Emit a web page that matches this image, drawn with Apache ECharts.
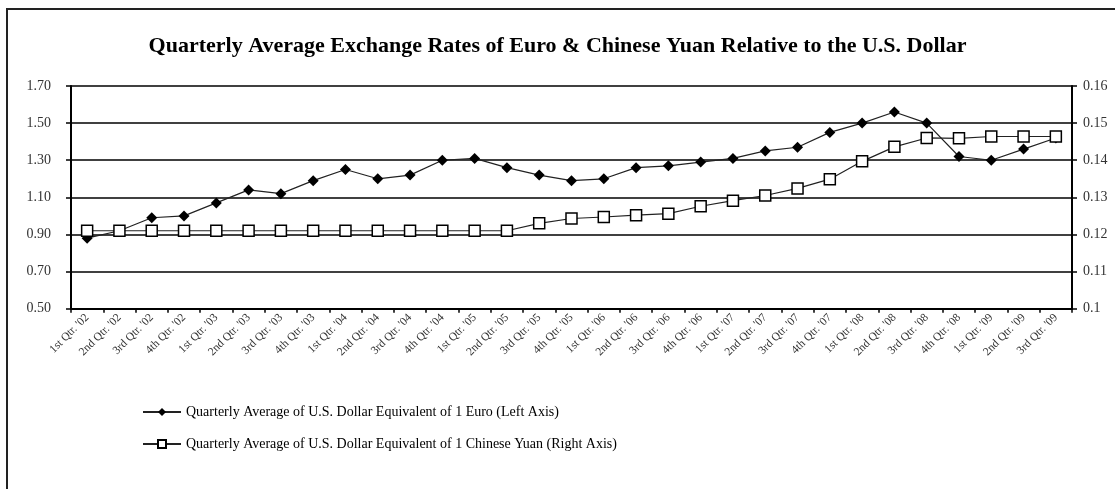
<!DOCTYPE html>
<html><head><meta charset="utf-8">
<script src="https://cdn.jsdelivr.net/npm/echarts@6/dist/echarts.min.js"></script>
<style>html,body{margin:0;padding:0;background:#fff;}#c{width:1115px;height:489px;}</style>
</head><body><div id="c"></div>
<script>
const categories = [
"1st Qtr. '02","2nd Qtr. '02","3rd Qtr. '02","4th Qtr. '02",
"1st Qtr. '03","2nd Qtr. '03","3rd Qtr. '03","4th Qtr. '03",
"1st Qtr. '04","2nd Qtr. '04","3rd Qtr. '04","4th Qtr. '04",
"1st Qtr. '05","2nd Qtr. '05","3rd Qtr. '05","4th Qtr. '05",
"1st Qtr. '06","2nd Qtr. '06","3rd Qtr. '06","4th Qtr. '06",
"1st Qtr. '07","2nd Qtr. '07","3rd Qtr. '07","4th Qtr. '07",
"1st Qtr. '08","2nd Qtr. '08","3rd Qtr. '08","4th Qtr. '08",
"1st Qtr. '09","2nd Qtr. '09","3rd Qtr. '09"];
const euro = [0.88,0.92,0.99,1.00,1.07,1.14,1.12,1.19,1.25,1.20,1.22,1.30,1.31,1.26,1.22,1.19,1.20,1.26,1.27,1.29,1.31,1.35,1.37,1.45,1.50,1.56,1.50,1.32,1.30,1.36,1.42];
const yuan = [0.121,0.121,0.121,0.121,0.121,0.121,0.121,0.121,0.121,0.121,0.121,0.121,0.121,0.121,0.123,0.1243,0.1247,0.1252,0.1256,0.1276,0.1291,0.1305,0.1324,0.1349,0.1397,0.1436,0.146,0.1459,0.1464,0.1464,0.1464];
const euroName = "Quarterly Average of U.S. Dollar Equivalent of 1 Euro (Left Axis)";
const yuanName = "Quarterly Average of U.S. Dollar Equivalent of 1 Chinese Yuan (Right Axis)";
const titleText = "Quarterly Average Exchange Rates of Euro & Chinese Yuan Relative to the U.S. Dollar";

const serif = "'Liberation Serif','DejaVu Serif',serif";
const chart = echarts.init(document.getElementById('c'), null, {renderer:'canvas'});
chart.setOption({
  animation:false,
  backgroundColor:'#fff',
  title:{text:titleText,left:'center',top:30,textStyle:{fontFamily:serif,fontWeight:'bold',fontSize:22,color:'#000'}},
  graphic:[{type:'rect',shape:{x:7,y:9,width:1200,height:600},style:{fill:'none',stroke:'#222',lineWidth:2},silent:true,z:-1}],
  legend:{orient:'vertical',left:137,top:400,itemGap:18,itemWidth:38,itemHeight:10,
    textStyle:{fontFamily:serif,fontSize:14,color:'#000'},
    data:[{name:euroName},{name:yuanName}]},
  grid:{left:71,right:43,top:86,bottom:180.3,containLabel:false},
  xAxis:{type:'category',data:categories,boundaryGap:true,
    axisLine:{lineStyle:{color:'#000',width:2}},
    axisTick:{show:true,interval:0,length:4,lineStyle:{color:'#000',width:1.5}},
    axisLabel:{interval:0,rotate:45,fontFamily:serif,fontSize:11.5,color:'#333',margin:7}},
  yAxis:[
    {type:'value',min:0.5,max:1.7,interval:0.2,position:'left',
     axisLine:{show:true,lineStyle:{color:'#000',width:2}},
     axisTick:{show:true,length:5,lineStyle:{color:'#000',width:1.5}},
     splitLine:{show:true,lineStyle:{color:'#000',width:1.5}},
     axisLabel:{formatter:v=>v.toFixed(2),fontFamily:serif,fontSize:14,color:'#333',margin:20}},
    {type:'value',min:0.1,max:0.16,interval:0.01,position:'right',
     axisLine:{show:true,lineStyle:{color:'#000',width:2}},
     axisTick:{show:true,length:5,lineStyle:{color:'#000',width:1.5}},
     splitLine:{show:false},
     axisLabel:{formatter:v=>String(Math.round(v*100)/100),fontFamily:serif,fontSize:14,color:'#333',margin:11}}
  ],
  series:[
    {name:euroName,type:'line',yAxisIndex:0,data:euro,symbol:'diamond',symbolSize:11,
     lineStyle:{color:'#222',width:1.2},itemStyle:{color:'#000',borderColor:'#000',borderWidth:0},z:3},
    {name:yuanName,type:'line',yAxisIndex:1,data:yuan,symbol:'rect',symbolSize:11,
     lineStyle:{color:'#222',width:1.2},itemStyle:{color:'#fff',borderColor:'#000',borderWidth:1.5},z:4}
  ]
});
</script></body></html>
